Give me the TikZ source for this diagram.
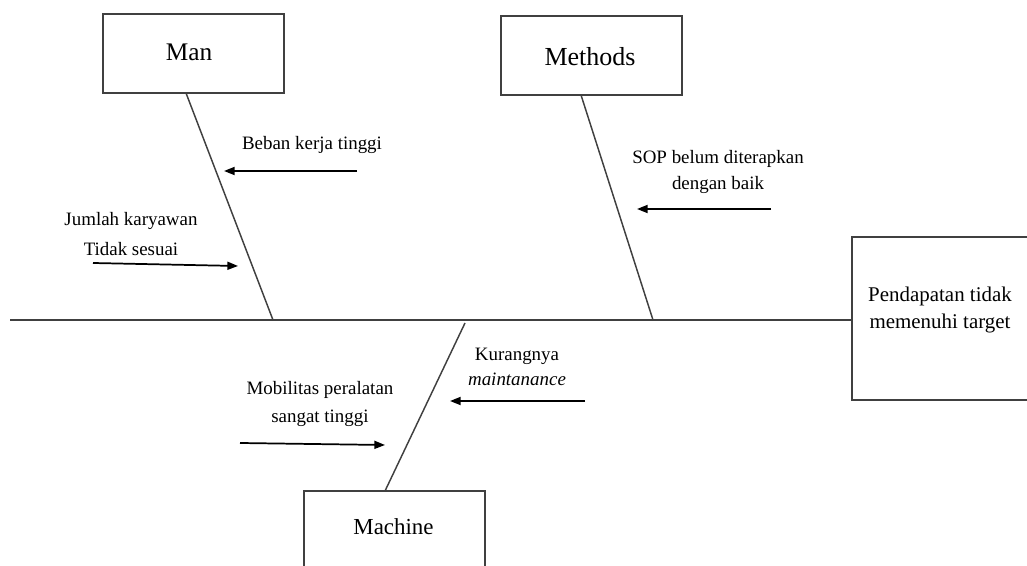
\documentclass[tikz,border=0pt]{standalone}
\usepackage{fontspec}
\setmainfont{Liberation Serif}
\usetikzlibrary{arrows.meta}
\begin{document}
\begin{tikzpicture}[x=0.75pt,y=-0.75pt,
  bone/.style={draw=black!75,line width=1.1pt},
  catbox/.style={draw=black!75,line width=1.2pt,minimum width=181*0.75pt,minimum height=79*0.75pt,inner sep=0pt},
  cause/.style={-{Triangle[length=8pt,width=6pt]},line width=1.3pt,black},
  lbl/.style={align=center,inner sep=0pt}]
\useasboundingbox (0,0) rectangle (1027,566);
\clip (0,0) rectangle (1027,566);
% category boxes
\node[catbox] (man) at (193.5,53.5) {};
\node[inner sep=0pt,font=\fontsize{19}{22}\selectfont] (manT) at (189,52) {Man};
\node[catbox] (methods) at (591.5,55.5) {};
\node[inner sep=0pt,font=\fontsize{19.5}{22}\selectfont] (methodsT) at (590,57) {Methods};
\node[catbox] (machine) at (394.5,530.5) {};
\node[inner sep=0pt,font=\fontsize{17.2}{20}\selectfont] (machineT) at (393.5,527) {Machine};
\node[draw=black!75,line width=1.2pt,minimum width=177*0.75pt,minimum height=163*0.75pt,inner sep=0pt] (effect) at (940.5,318.5) {};
\node[lbl,font=\fontsize{15.7}{20}\selectfont] (effectT) at (940,310) {Pendapatan tidak\\memenuhi target};
% spine
\coordinate (tail) at (10,320);
\draw[bone] (tail) -- (tail -| effect.west);
% bones
\coordinate (manTop) at (186,93);
\coordinate (manFoot) at (273,320);
\coordinate (metTop) at (581,95);
\coordinate (metFoot) at (653,320);
\coordinate (macTop) at (465,323);
\coordinate (macFoot) at (385,491);
\draw[bone] (manTop) -- (manFoot);
\draw[bone] (metTop) -- (metFoot);
\draw[bone] (macTop) -- (macFoot);
% causes
\node[lbl,font=\fontsize{14.2}{17}\selectfont] (c1) at (312,145) {Beban kerja tinggi};
\coordinate (a1s) at (357,171); \coordinate (a1e) at (224,171);
\draw[cause] (a1s) -- (a1e);
\node[lbl,font=\fontsize{14.2}{22.5}\selectfont] (c2) at (131,234) {Jumlah karyawan\\Tidak sesuai};
\coordinate (a2s) at (93,263); \coordinate (a2e) at (238,266);
\draw[cause] (a2s) -- (a2e);
\node[lbl,font=\fontsize{14.2}{19.5}\selectfont] (c3) at (718,172) {SOP belum diterapkan\\dengan baik};
\coordinate (a3s) at (771,209); \coordinate (a3e) at (637,209);
\draw[cause] (a3s) -- (a3e);
\node[lbl,font=\fontsize{14.2}{18.8}\selectfont] (c4) at (517,367) {Kurangnya\\\textit{maintanance}};
\coordinate (a4s) at (585,401); \coordinate (a4e) at (450,401);
\draw[cause] (a4s) -- (a4e);
\node[lbl,font=\fontsize{14.2}{21}\selectfont] (c5) at (320,404) {Mobilitas peralatan\\sangat tinggi};
\coordinate (a5s) at (240,443); \coordinate (a5e) at (385,445);
\draw[cause] (a5s) -- (a5e);
\end{tikzpicture}
\end{document}
